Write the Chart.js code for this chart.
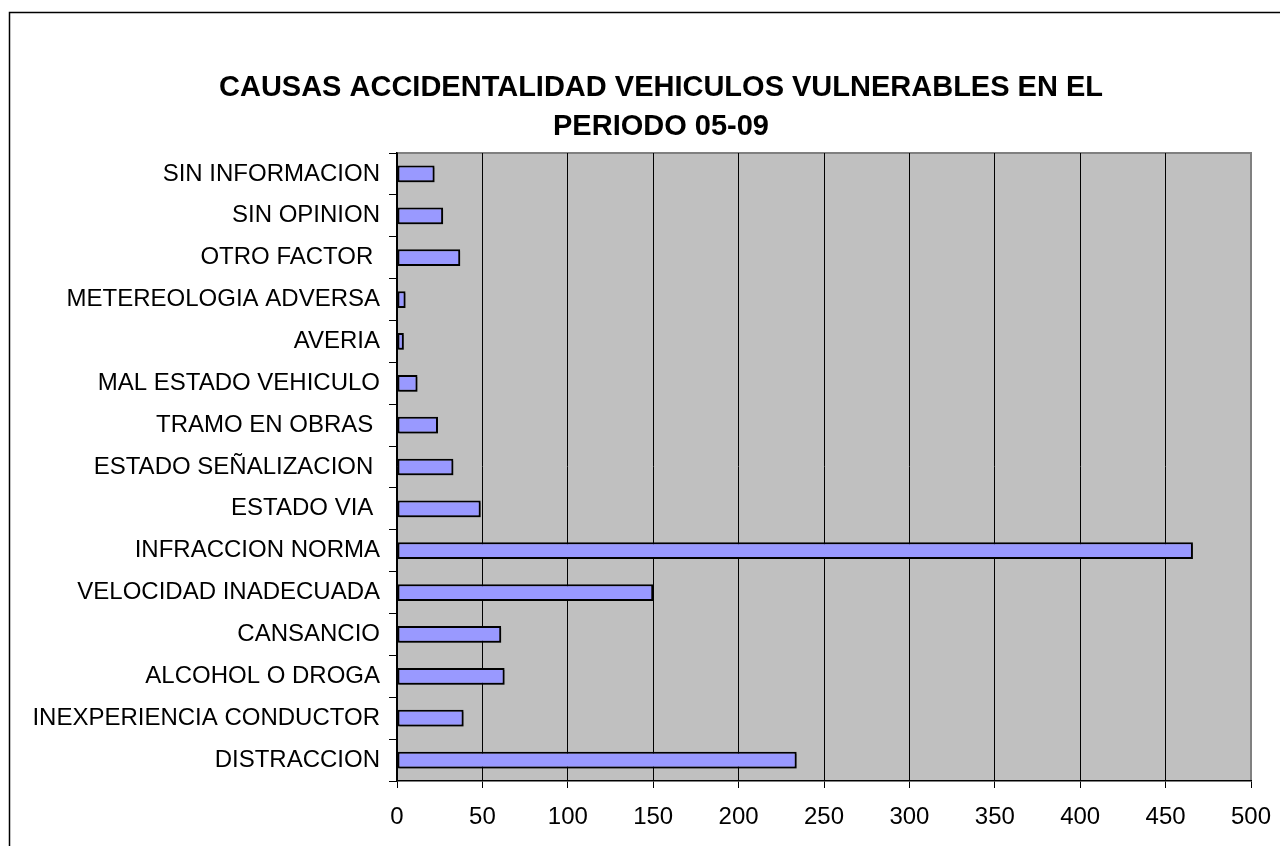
<!DOCTYPE html>
<html>
<head>
<meta charset="utf-8">
<script src="https://cdn.jsdelivr.net/npm/chart.js@4"></script>
<style>
  body { margin: 0; background: #fff; }
</style>
</head>
<body>
<canvas id="myChart" width="1280" height="846"></canvas>
<script>
const titleLines = ["CAUSAS ACCIDENTALIDAD VEHICULOS VULNERABLES EN EL", "PERIODO 05-09"];

// top to bottom, as on the chart
const causas = [
  "SIN INFORMACION",
  "SIN OPINION",
  "OTRO FACTOR ",
  "METEREOLOGIA ADVERSA",
  "AVERIA",
  "MAL ESTADO VEHICULO",
  "TRAMO EN OBRAS ",
  "ESTADO SEÑALIZACION ",
  "ESTADO VIA ",
  "INFRACCION NORMA",
  "VELOCIDAD INADECUADA",
  "CANSANCIO",
  "ALCOHOL O DROGA",
  "INEXPERIENCIA CONDUCTOR",
  "DISTRACCION",
];
const accidentes = [22, 27, 37, 5, 4, 12, 24, 33, 49, 466, 150, 61, 63, 39, 234];
const xTicks = [0, 50, 100, 150, 200, 250, 300, 350, 400, 450, 500];

const fontFamily = '"Liberation Sans", Arial, sans-serif';
Chart.defaults.font.family = fontFamily;
Chart.defaults.color = "#000";

const plotArea = {
  id: "plotArea",
  beforeDraw(chart) {
    const ctx = chart.ctx;
    const a = chart.chartArea;
    ctx.save();
    ctx.fillStyle = "#fff";
    ctx.fillRect(0, 0, chart.width, chart.height);
    ctx.fillStyle = "#c0c0c0";
    ctx.fillRect(a.left, a.top, a.right - a.left, a.bottom - a.top);
    ctx.strokeStyle = "#808080";
    ctx.lineWidth = 2;
    ctx.beginPath();
    ctx.moveTo(a.left, a.top);
    ctx.lineTo(a.right, a.top);
    ctx.lineTo(a.right, a.bottom);
    ctx.stroke();
    // outer chart border
    ctx.strokeStyle = "#000";
    ctx.lineWidth = 1.5;
    ctx.strokeRect(9.5, 12.5, 1400, 1000);
    // title, centred like the original
    ctx.fillStyle = "#000";
    ctx.font = "bold 29px " + fontFamily;
    ctx.textAlign = "center";
    ctx.textBaseline = "middle";
    titleLines.forEach((line, i) => {
      ctx.fillText(line, 661, 88 + i * 39);
    });
    ctx.restore();
  },
  beforeDatasetsDraw(chart) {
    const ctx = chart.ctx;
    ctx.save();
    ctx.shadowColor = "rgba(0,0,0,0.35)";
    ctx.shadowOffsetX = 2;
    ctx.shadowOffsetY = 2;
    ctx.shadowBlur = 0;
  },
  afterDatasetsDraw(chart) {
    chart.ctx.restore();
  },
};

const config = {
  type: "bar",
  data: {
    labels: causas,
    datasets: [
      {
        data: accidentes,
        backgroundColor: "#9999ff",
        borderColor: "#000",
        borderWidth: 2,
        borderSkipped: false,
        barPercentage: 0.4,
        categoryPercentage: 1,
      },
    ],
  },
  options: {
    indexAxis: "y",
    responsive: false,
    animation: false,
    layout: {
      padding: { left: 0, right: 29, top: 153, bottom: 0 },
    },
    scales: {
      x: {
        min: 0,
        max: 500,
        afterBuildTicks: (axis) => {
          axis.ticks = xTicks.map((v) => ({ value: v }));
        },
        afterFit: (scale) => {
          scale.height = 65;
          scale.paddingLeft = 0;
          scale.paddingRight = 0;
        },
        grid: {
          color: (c) => (c.tick && c.tick.value === 500 ? "#808080" : "#000"),
          tickColor: "#000",
          tickLength: 7,
          lineWidth: 1,
        },
        border: { color: "#000", width: 1.5 },
        ticks: {
          font: { size: 24 },
          padding: 15,
          maxRotation: 0,
        },
      },
      y: {
        afterFit: (scale) => {
          scale.width = 397;
        },
        grid: {
          drawOnChartArea: false,
          tickLength: 8,
          tickColor: "#000",
        },
        border: { color: "#000", width: 1.5 },
        ticks: {
          font: { size: 24 },
          padding: 9,
          autoSkip: false,
        },
      },
    },
    plugins: {
      legend: { display: false },
      tooltip: { enabled: false },
      title: { display: false },
    },
  },
  plugins: [plotArea],
};

const myChart = new Chart(document.getElementById("myChart"), config);
</script>
</body>
</html>
